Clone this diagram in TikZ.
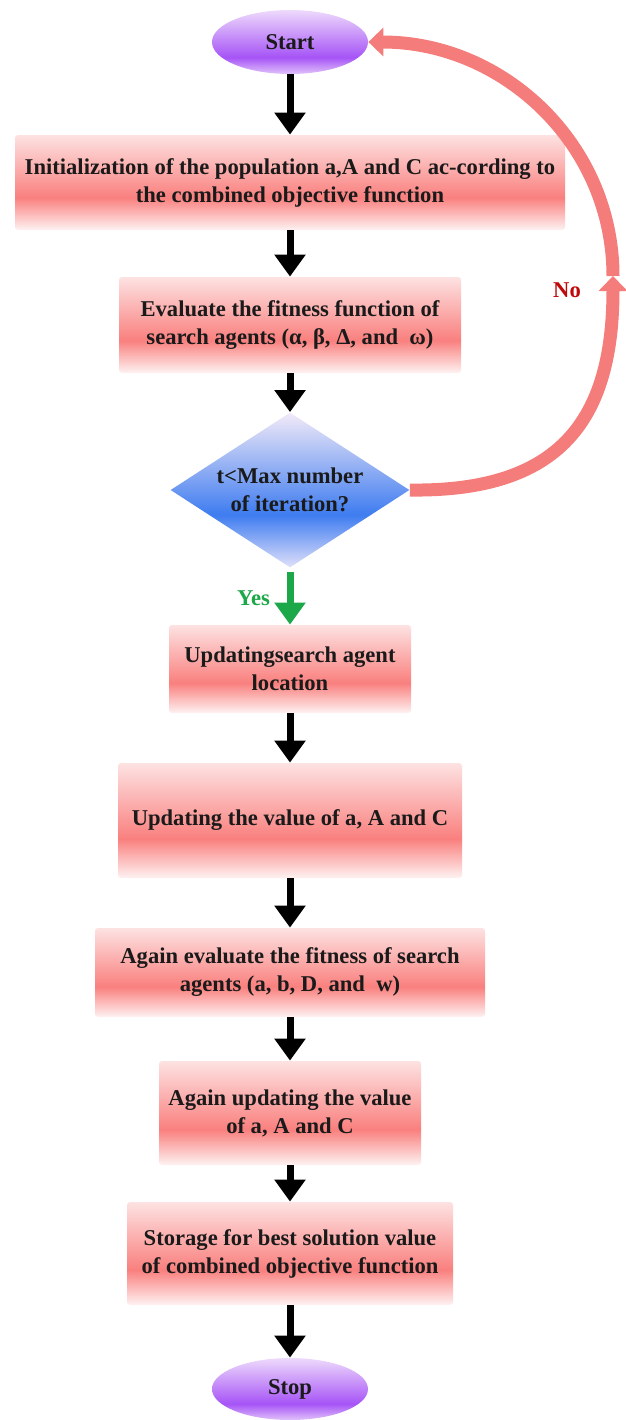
\documentclass[tikz,border=0pt]{standalone}
\usepackage{fontspec}
\setmainfont{Liberation Serif}
\usetikzlibrary{shapes.geometric,arrows.meta}
\definecolor{ink}{HTML}{1A1A1A}
\definecolor{boxtop}{RGB}{253,226,226}\definecolor{boxmid}{RGB}{249,128,126}\definecolor{boxbot}{RGB}{254,242,242}
\definecolor{diatop}{RGB}{242,234,248}\definecolor{diamid}{RGB}{62,124,240}\definecolor{diabot}{RGB}{224,224,250}
\definecolor{ovtop}{RGB}{238,218,252}\definecolor{ovmid}{RGB}{166,84,246}\definecolor{ovbot}{RGB}{224,194,250}
\definecolor{noarc}{RGB}{244,124,122}\definecolor{nored}{RGB}{190,10,10}\definecolor{yesgreen}{RGB}{28,168,72}
\pgfdeclareverticalshading{boxsh}{100bp}{color(0bp)=(boxbot);color(25bp)=(boxbot);color(42bp)=(boxmid);color(75bp)=(boxtop);color(100bp)=(boxtop)}
\pgfdeclareverticalshading{diash}{100bp}{color(0bp)=(diabot);color(25bp)=(diabot);color(42bp)=(diamid);color(75bp)=(diatop);color(100bp)=(diatop)}
\pgfdeclareverticalshading{ovsh}{100bp}{color(0bp)=(ovbot);color(25bp)=(ovbot);color(38bp)=(ovmid);color(75bp)=(ovtop);color(100bp)=(ovtop)}
\begin{document}
\begin{tikzpicture}[x=0.5pt,y=-0.5pt,font=\bfseries\fontsize{11.3}{14}\selectfont,
proc/.style={rectangle,rounded corners=1.5pt,shading=boxsh,align=center,text=ink,inner sep=0pt},
term/.style={ellipse,shading=ovsh,text=ink,inner sep=0pt},
dec/.style={diamond,aspect=1.54,shading=diash,align=center,text=ink,inner sep=0pt},
flow/.style={line width=3.5pt,-{Triangle[width=15pt,length=11pt]}},
loopback/.style={noarc,line width=6.5pt,-{Triangle[width=14pt,length=7.5pt]}}]
\useasboundingbox (0,0) rectangle (626,1420);
% flow chart boxes
\node[term,minimum width=78pt,minimum height=32pt] (start) at (290,42) {Start};
\node[proc,minimum width=275pt,minimum height=47.5pt] (init) at (290,182.5) {Initialization of the population a,A and C ac-cording to\\the combined objective function};
\node[proc,minimum width=171pt,minimum height=48pt] (eval) at (290,325) {Evaluate the fitness function of\\search agents (α, β, Δ, and\ \ ω)};
\node[dec,minimum width=119.5pt,minimum height=77.5pt] (cond) at (290,490) {t<Max number\\of iteration?};
\node[proc,minimum width=121pt,minimum height=44pt] (upd) at (290,669) {Updatingsearch agent\\location};
\node[proc,minimum width=172pt,minimum height=57.5pt] (val) at (290,820.5) {Updating the value of a, A and C};
\node[proc,minimum width=195pt,minimum height=44.5pt] (again) at (290,972.5) {Again evaluate the fitness of search\\agents (a, b, D, and\ \ w)};
\node[proc,minimum width=131pt,minimum height=52pt] (againupd) at (290,1113) {Again updating the value\\of a, A and C};
\node[proc,minimum width=163pt,minimum height=51.5pt] (store) at (290,1253.5) {Storage for best solution value\\of combined objective function};
\node[term,minimum width=78pt,minimum height=31pt] (stop) at (290,1389) {Stop};
% arrows
\draw[flow] (start.south) -- (init.north);\draw[flow] (init.south) -- (eval.north);\draw[flow] (eval.south) -- (cond.north);
\draw[flow,yesgreen] ([yshift=-2pt]cond.south) -- (upd.north) node[midway,left=5pt,text=yesgreen] (yes) {Yes};
\draw[flow] (upd.south) -- (val.north);\draw[flow] (val.south) -- (again.north);\draw[flow] (again.south) -- (againupd.north);
\draw[flow] (againupd.south) -- (store.north);\draw[flow] (store.south) -- (stop.north);
% loop back when the test fails
\coordinate (turn) at (613,276);
\draw[loopback] (cond.east) .. controls (560,492) and (613,420) .. (turn);
\draw[loopback] (turn) .. controls (613,145) and (504,42) .. (start.east);
\node[text=nored] (no) at (567,290) {No};
\end{tikzpicture}
\end{document}
